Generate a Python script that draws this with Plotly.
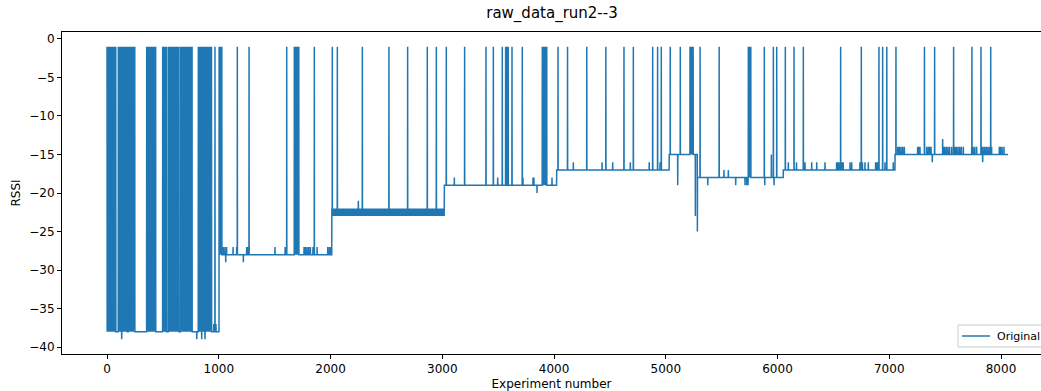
import numpy as np
import plotly.graph_objects as go

# ---- RSSI log for raw_data_run2--3 (8064 samples) ----
N_SAMPLES = 8064

# Floor level of each stable stretch: start index and RSSI
SEG_START = [0, 1003, 2012, 3019, 4024, 5031, 5283, 6052, 7052]
SEG_LEVEL = [-38, -28, -23, -19, -17, -15, -18, -17, -15]

# Stretch where the reading flickers between two adjacent levels
BAND_SPAN = (2012, 3019)
BAND_ALT = -22

# Spans where the reading flips continuously between the floor and -1
BURSTS = [(0, 80), (101, 182), (190, 250), (355, 436), (498, 533),
          (549, 644), (659, 763), (817, 937), (1003, 1029), (1676, 1718),
          (3895, 3937), (5217, 5247), (5739, 5763)]

# Isolated single samples that jump to -1
TOP_SPIKES = [966, 1166, 1271, 1608, 1855, 2016, 2061, 2285, 2523, 2690,
              2866, 2947, 3036, 3200, 3391, 3457, 3537, 3567, 3578, 3590,
              3624, 3716, 4036, 4121, 4293, 4464, 4626, 4710, 4883, 4927,
              4960, 5040, 5130, 5307, 5478, 5882, 5963, 5993, 6070, 6148,
              6231, 6565, 6750, 6908, 6941, 6978, 7060, 7315, 7406, 7576,
              7740, 7821, 7908]

# Small single-sample deviations around the floor: (index, RSSI)
SMALL_IDX = [131, 803, 847, 877, 955, 965, 975,
             1026, 1040, 1055, 1070, 1128, 1160, 1250, 1262, 1503, 1594,
             1605, 1763, 1775, 1790, 1805, 1820, 1843, 1880, 1975, 1990,
             2001, 1062, 1220,
             2249,
             3108, 3496, 3722, 3812, 3820, 3982, 3848,
             4173, 4430, 4525, 4683, 4852, 4949, 4955,
             5107, 5265, 5283,
             5521, 5560, 5745, 5376, 5626, 5709, 5725, 5736, 5886, 5969, 5945,
             6097, 6170, 6246, 6306, 6351, 6425, 6529, 6540, 6550, 6575,
             6588, 6649, 6664, 6738, 6760, 6783, 6813, 6878, 6890, 6902,
             6962, 7036,
             7076, 7090, 7105, 7120, 7135, 7254, 7265, 7275, 7335, 7350,
             7362, 7374, 7484, 7495, 7510, 7525, 7540, 7559, 7588, 7600,
             7615, 7630, 7645, 7663, 7738, 7750, 7765, 7782, 7827, 7840,
             7855, 7870, 7885, 7900, 7916, 7985, 7995, 8010, 8027,
             7478, 7385, 7836]
SMALL_VAL = [-39, -39, -39, -39, -37, -37, -37,
             -27, -27, -27, -27, -27, -27, -27, -27, -27, -27,
             -27, -27, -27, -27, -27, -27, -27, -27, -27, -27,
             -27, -29, -29,
             -21,
             -18, -18, -18, -18, -18, -18, -20,
             -16, -16, -16, -16, -16, -16, -16,
             -19, -23, -25,
             -17, -17, -17, -19, -19, -19, -19, -19, -19, -19, -15,
             -16, -16, -16, -16, -16, -16, -16, -16, -16, -16,
             -16, -16, -16, -16, -16, -16, -16, -16, -16, -16,
             -16, -16,
             -14, -14, -14, -14, -14, -14, -14, -14, -14, -14,
             -14, -14, -14, -14, -14, -14, -14, -14, -14, -14,
             -14, -14, -14, -14, -14, -14, -14, -14, -14, -14,
             -14, -14, -14, -14, -14, -14, -14, -14, -14,
             -13, -16, -16]

X_TICKS = [0, 1000, 2000, 3000, 4000, 5000, 6000, 7000, 8000]
Y_TICKS = [0, -5, -10, -15, -20, -25, -30, -35, -40]
SERIES_NAME = "Original"

# ---- assemble the sample series ----
rssi = np.zeros(N_SAMPLES)
bounds = SEG_START + [N_SAMPLES]
for i, level in enumerate(SEG_LEVEL):
    rssi[bounds[i]:bounds[i + 1]] = level
rssi[BAND_SPAN[0]:BAND_SPAN[1]:2] = BAND_ALT
for s, e in BURSTS:
    rssi[s:e:2] = -1
for i, v in zip(SMALL_IDX, SMALL_VAL):
    rssi[i] = v
for i in TOP_SPIKES:
    rssi[i] = -1
sample = np.arange(N_SAMPLES)

FONT = "DejaVu Sans, Verdana, sans-serif"
LINE_COLOR = "#1f77b4"
W, H = 1041, 391
M_L, M_R, M_T, M_B = 62, 0, 32, 37
PLOT_W = W - M_L - M_R
PLOT_H = H - M_T - M_B


def px_x(p):
    """Horizontal pixel -> paper fraction."""
    return (p - M_L) / PLOT_W


def px_y(p):
    """Vertical pixel (from top) -> paper fraction."""
    return (H - M_B - p) / PLOT_H


AXIS = dict(
    showgrid=False, zeroline=False, showline=True, linecolor="#000000",
    linewidth=1, ticks="outside", ticklen=4, tickwidth=1, tickcolor="#000000",
    tickfont=dict(family=FONT, size=12, color="#000000"),
)

fig = go.Figure()
fig.add_trace(go.Scatter(
    x=sample, y=rssi, mode="lines", name=SERIES_NAME, showlegend=False,
    line=dict(color=LINE_COLOR, width=1.5, simplify=False),
))

# Legend box in the lower-right corner (runs past the figure edge)
fig.add_shape(type="rect", xref="paper", yref="paper",
              x0=px_x(958), x1=px_x(1070), y0=px_y(347), y1=px_y(325),
              line=dict(color="#cccccc", width=1),
              fillcolor="rgba(255,255,255,0.8)", layer="above")
fig.add_shape(type="line", xref="paper", yref="paper",
              x0=px_x(962), x1=px_x(990), y0=px_y(336), y1=px_y(336),
              line=dict(color=LINE_COLOR, width=1.5), layer="above")
fig.add_annotation(text=SERIES_NAME, xref="paper", yref="paper",
                   x=px_x(995), y=px_y(336), xanchor="left", yanchor="middle",
                   showarrow=False, font=dict(family=FONT, size=11,
                                              color="#000000"))

fig.update_layout(
    width=W, height=H,
    margin=dict(l=M_L, r=M_R, t=M_T, b=M_B),
    paper_bgcolor="#ffffff", plot_bgcolor="#ffffff",
    font=dict(family=FONT, size=12, color="#000000"),
    title=dict(text="raw_data_run2--3", x=552 / W, xanchor="center",
               y=1 - 13 / H, yanchor="middle", yref="container",
               font=dict(family=FONT, size=15, color="#000000")),
    xaxis=dict(AXIS, range=[-403, 8358], tickvals=X_TICKS, mirror=True,
               title=dict(text="Experiment number", standoff=5,
                          font=dict(family=FONT, size=12))),
    yaxis=dict(AXIS, range=[-40.9, 0.9], tickvals=Y_TICKS,
               title=dict(text="RSSI", standoff=6,
                          font=dict(family=FONT, size=12))),
    showlegend=False,
)

fig.write_html("out.html")
